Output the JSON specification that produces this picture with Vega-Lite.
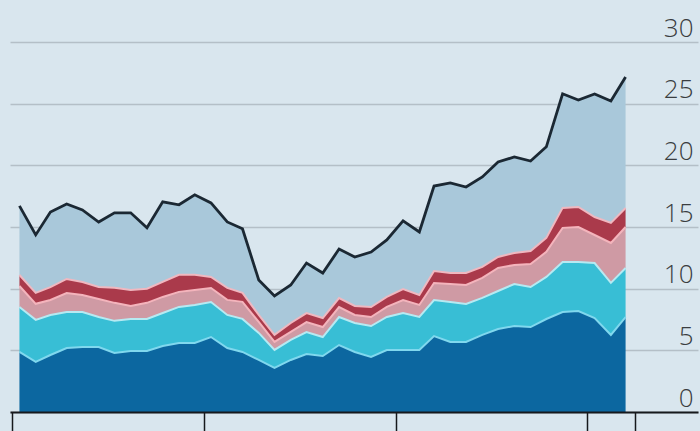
{
  "$schema": "https://vega.github.io/schema/vega-lite/v6.json",
  "width": 688,
  "height": 370,
  "autosize": {"type": "none"},
  "padding": {"left": 10, "top": 42, "right": 2, "bottom": 19},
  "background": "#d9e6ee",
  "config": {"view": {"stroke": null}},
  "data": {"values": [
    {"date": "2019-01-15", "s1": 4.87, "s2": 3.65, "s3": 1.70, "s4": 0.89, "s5": 5.60},
    {"date": "2019-02-15", "s1": 4.06, "s2": 3.41, "s3": 1.30, "s4": 0.89, "s5": 4.70},
    {"date": "2019-03-15", "s1": 4.62, "s2": 3.24, "s3": 1.22, "s4": 1.05, "s5": 6.08},
    {"date": "2019-04-15", "s1": 5.19, "s2": 2.92, "s3": 1.54, "s4": 1.14, "s5": 6.08},
    {"date": "2019-05-15", "s1": 5.27, "s2": 2.84, "s3": 1.38, "s4": 1.05, "s5": 5.84},
    {"date": "2019-06-15", "s1": 5.27, "s2": 2.43, "s3": 1.46, "s4": 0.97, "s5": 5.27},
    {"date": "2019-07-15", "s1": 4.79, "s2": 2.60, "s3": 1.46, "s4": 1.22, "s5": 6.08},
    {"date": "2019-08-15", "s1": 4.95, "s2": 2.60, "s3": 1.05, "s4": 1.30, "s5": 6.25},
    {"date": "2019-09-15", "s1": 4.95, "s2": 2.60, "s3": 1.30, "s4": 1.14, "s5": 4.95},
    {"date": "2019-10-15", "s1": 5.35, "s2": 2.68, "s3": 1.30, "s4": 1.22, "s5": 6.49},
    {"date": "2019-11-15", "s1": 5.60, "s2": 2.92, "s3": 1.22, "s4": 1.38, "s5": 5.68},
    {"date": "2019-12-15", "s1": 5.60, "s2": 3.08, "s3": 1.22, "s4": 1.22, "s5": 6.49},
    {"date": "2020-01-15", "s1": 6.08, "s2": 2.84, "s3": 1.14, "s4": 0.89, "s5": 6.00},
    {"date": "2020-02-15", "s1": 5.19, "s2": 2.68, "s3": 1.22, "s4": 0.97, "s5": 5.35},
    {"date": "2020-03-15", "s1": 4.87, "s2": 2.68, "s3": 1.38, "s4": 0.73, "s5": 5.19},
    {"date": "2020-04-15", "s1": 4.22, "s2": 2.19, "s3": 0.89, "s4": 0.57, "s5": 2.84},
    {"date": "2020-05-15", "s1": 3.57, "s2": 1.46, "s3": 0.65, "s4": 0.57, "s5": 3.16},
    {"date": "2020-06-15", "s1": 4.22, "s2": 1.62, "s3": 0.65, "s4": 0.73, "s5": 3.08},
    {"date": "2020-07-15", "s1": 4.70, "s2": 1.78, "s3": 0.81, "s4": 0.73, "s5": 4.06},
    {"date": "2020-08-15", "s1": 4.54, "s2": 1.54, "s3": 0.81, "s4": 0.73, "s5": 3.65},
    {"date": "2020-09-15", "s1": 5.43, "s2": 2.27, "s3": 0.81, "s4": 0.73, "s5": 3.97},
    {"date": "2020-10-15", "s1": 4.87, "s2": 2.35, "s3": 0.65, "s4": 0.73, "s5": 3.97},
    {"date": "2020-11-15", "s1": 4.46, "s2": 2.51, "s3": 0.73, "s4": 0.81, "s5": 4.46},
    {"date": "2020-12-15", "s1": 5.03, "s2": 2.68, "s3": 0.81, "s4": 0.81, "s5": 4.62},
    {"date": "2021-01-15", "s1": 5.03, "s2": 3.00, "s3": 1.05, "s4": 0.89, "s5": 5.52},
    {"date": "2021-02-15", "s1": 5.03, "s2": 2.68, "s3": 0.97, "s4": 0.81, "s5": 5.11},
    {"date": "2021-03-15", "s1": 6.16, "s2": 2.92, "s3": 1.38, "s4": 0.97, "s5": 6.89},
    {"date": "2021-04-15", "s1": 5.68, "s2": 3.24, "s3": 1.46, "s4": 0.89, "s5": 7.30},
    {"date": "2021-05-15", "s1": 5.68, "s2": 3.08, "s3": 1.54, "s4": 0.97, "s5": 6.97},
    {"date": "2021-06-15", "s1": 6.25, "s2": 3.00, "s3": 1.62, "s4": 0.89, "s5": 7.30},
    {"date": "2021-07-15", "s1": 6.73, "s2": 3.08, "s3": 1.87, "s4": 0.89, "s5": 7.70},
    {"date": "2021-08-15", "s1": 6.97, "s2": 3.41, "s3": 1.54, "s4": 0.97, "s5": 7.79},
    {"date": "2021-09-15", "s1": 6.89, "s2": 3.24, "s3": 1.87, "s4": 1.05, "s5": 7.30},
    {"date": "2021-10-15", "s1": 7.54, "s2": 3.41, "s3": 2.03, "s4": 1.14, "s5": 7.38},
    {"date": "2021-11-15", "s1": 8.11, "s2": 4.06, "s3": 2.76, "s4": 1.62, "s5": 9.25},
    {"date": "2021-12-15", "s1": 8.19, "s2": 3.97, "s3": 2.84, "s4": 1.62, "s5": 8.68},
    {"date": "2022-01-15", "s1": 7.62, "s2": 4.46, "s3": 2.27, "s4": 1.46, "s5": 9.98},
    {"date": "2022-02-15", "s1": 6.25, "s2": 4.22, "s3": 3.24, "s4": 1.62, "s5": 9.89},
    {"date": "2022-03-15", "s1": 7.70, "s2": 3.97, "s3": 3.33, "s4": 1.54, "s5": 10.62}
  ]},
  "transform": [
    {"fold": ["s1", "s2", "s3", "s4", "s5"], "as": ["key", "value"]},
    {"stack": "value", "groupby": ["date"], "sort": [{"field": "key", "order": "ascending"}], "as": ["y0", "y1"]}
  ],
  "encoding": {
    "x": {
      "field": "date", "type": "temporal",
      "scale": {"type": "utc", "domain": [{"year": 2018, "month": 12, "date": 28, "utc": true}, {"year": 2022, "month": 7, "date": 31, "utc": true}]},
      "axis": {
        "title": null, "labels": false, "grid": false, "zindex": 1,
        "domain": true, "domainColor": "#16191c", "domainWidth": 2,
        "ticks": true, "tickSize": 22, "tickColor": "#16191c", "tickWidth": 1.5,
        "values": [
          {"year": 2019, "month": 1, "date": 1, "utc": true},
          {"year": 2020, "month": 1, "date": 1, "utc": true},
          {"year": 2021, "month": 1, "date": 1, "utc": true},
          {"year": 2022, "month": 1, "date": 1, "utc": true},
          {"year": 2022, "month": 4, "date": 1, "utc": true}
        ]
      }
    }
  },
  "layer": [
    {
      "mark": {"type": "area", "interpolate": "linear"},
      "encoding": {
        "y": {
          "field": "y1", "type": "quantitative",
          "scale": {"domain": [0, 30], "nice": false, "zero": true},
          "axis": {
            "orient": "right", "title": null, "values": [0, 5, 10, 15, 20, 25, 30],
            "grid": true, "gridColor": "#b4bfc7", "gridWidth": 1.5,
            "domain": false, "ticks": false, "tickSize": 0,
            "labelAlign": "right", "labelBaseline": "alphabetic", "labelOffset": -6, "labelPadding": -5,
            "labelFont": "Open Sans", "labelFontWeight": 300, "labelFontSize": 26, "labelColor": "#3a3d40"
          }
        },
        "y2": {"field": "y0"},
        "fill": {
          "field": "key", "type": "nominal",
          "scale": {"domain": ["s1", "s2", "s3", "s4", "s5"], "range": ["#0c67a0", "#38bed5", "#cf9aa4", "#aa3a4b", "#a9c8da"]},
          "legend": null
        }
      }
    },
    {
      "transform": [{"filter": "datum.key != 's5'"}],
      "mark": {"type": "line", "interpolate": "linear", "strokeWidth": 2},
      "encoding": {
        "y": {"field": "y1", "type": "quantitative"},
        "stroke": {
          "field": "key", "type": "nominal",
          "scale": {"domain": ["s1", "s2", "s3", "s4"], "range": ["#80d8ee", "#b6eaf2", "#f4b4bc", "#f0b8c0"]},
          "legend": null
        }
      }
    },
    {
      "transform": [{"filter": "datum.key == 's5'"}],
      "mark": {"type": "line", "interpolate": "linear", "strokeWidth": 2.8, "color": "#1b2833"},
      "encoding": {
        "y": {"field": "y1", "type": "quantitative"}
      }
    }
  ]
}
